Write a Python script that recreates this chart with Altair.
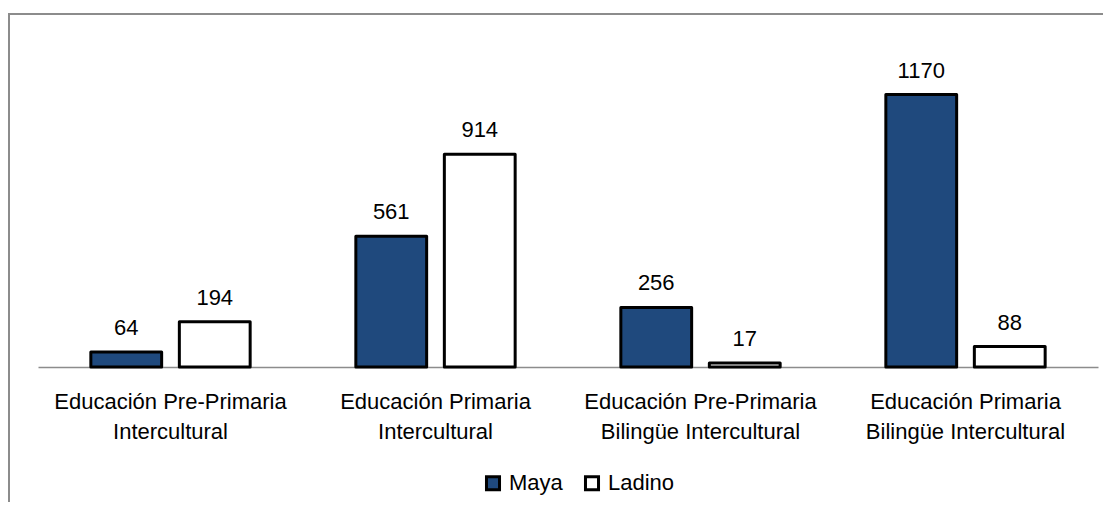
import altair as alt
import pandas as pd

categories = [
    "Educación Pre-Primaria Intercultural",
    "Educación Primaria Intercultural",
    "Educación Pre-Primaria Bilingüe Intercultural",
    "Educación Primaria Bilingüe Intercultural",
]
label_lines = {
    "Educación Pre-Primaria Intercultural": ["Educación Pre-Primaria", "Intercultural"],
    "Educación Primaria Intercultural": ["Educación Primaria", "Intercultural"],
    "Educación Pre-Primaria Bilingüe Intercultural": ["Educación Pre-Primaria", "Bilingüe Intercultural"],
    "Educación Primaria Bilingüe Intercultural": ["Educación Primaria", "Bilingüe Intercultural"],
}
series = ["Maya", "Ladino"]
maya = [64, 561, 256, 1170]
ladino = [194, 914, 17, 88]

rows = []
for c, m, l in zip(categories, maya, ladino):
    rows.append({"cat": c, "serie": "Maya", "valor": m})
    rows.append({"cat": c, "serie": "Ladino", "valor": l})
df = pd.DataFrame(rows)

FONT = "Liberation Sans"
W, H = 1060, 326

expr = ""
for c in categories:
    expr += "datum.label == '%s' ? ['%s', '%s'] : " % (c, label_lines[c][0], label_lines[c][1])
expr += "datum.label"

x = alt.X(
    "cat:N",
    sort=categories,
    scale=alt.Scale(paddingInner=0, paddingOuter=0),
    axis=alt.Axis(
        title=None,
        labelExpr=expr,
        labelAngle=0,
        labelFont=FONT,
        labelFontSize=22,
        labelColor="#000000",
        labelLineHeight=30,
        labelPadding=24,
        labelBaseline="top",
        ticks=False,
        grid=False,
        domainColor="#8c8c8c",
        domainWidth=1.5,
        labelLimit=400,
    ),
)
xoff = alt.XOffset("serie:N", sort=series, scale=alt.Scale(paddingInner=0.2, paddingOuter=0.597))
y = alt.Y("valor:Q", scale=alt.Scale(domain=[0, 1400], nice=False), axis=None)
color = alt.Color(
    "serie:N",
    sort=series,
    scale=alt.Scale(domain=series, range=["#1F497D", "#FFFFFF"]),
    legend=alt.Legend(
        title=None,
        orient="none",
        legendX=444,
        legendY=431,
        direction="horizontal",
        symbolType="square",
        symbolSize=170,
        symbolStrokeColor="#000000",
        symbolStrokeWidth=3,
        labelFont=FONT,
        labelFontSize=22,
        labelColor="#000000",
        labelOffset=5,
        columnPadding=16,
    ),
)

base = alt.Chart(df)
bars = base.mark_bar(stroke="#000000", strokeWidth=3, strokeJoin="round").encode(
    x=x, xOffset=xoff, y=y, fill=color
)
texts = base.mark_text(font=FONT, fontSize=22, color="#000000", baseline="alphabetic", dy=-17).encode(
    x=x, xOffset=xoff, y=y, text=alt.Text("valor:Q")
)
border = alt.Chart(pd.DataFrame({"a": [0]})).mark_rect(
    fill="transparent", stroke="#8c8c8c", strokeWidth=2
).encode(
    x=alt.value(-29), x2=alt.value(1200), y=alt.value(-27), y2=alt.value(700)
)

chart = (
    alt.layer(border, bars, texts)
    .properties(
        width=W,
        height=H,
        background="white",
        autosize=alt.AutoSizeParams(type="none"),
        padding={"left": 30, "top": 33, "right": 5, "bottom": 135},
    )
    .configure_view(strokeWidth=0, stroke="transparent")
)

chart.save("out.html", embed_options={"renderer": "svg", "actions": False})
